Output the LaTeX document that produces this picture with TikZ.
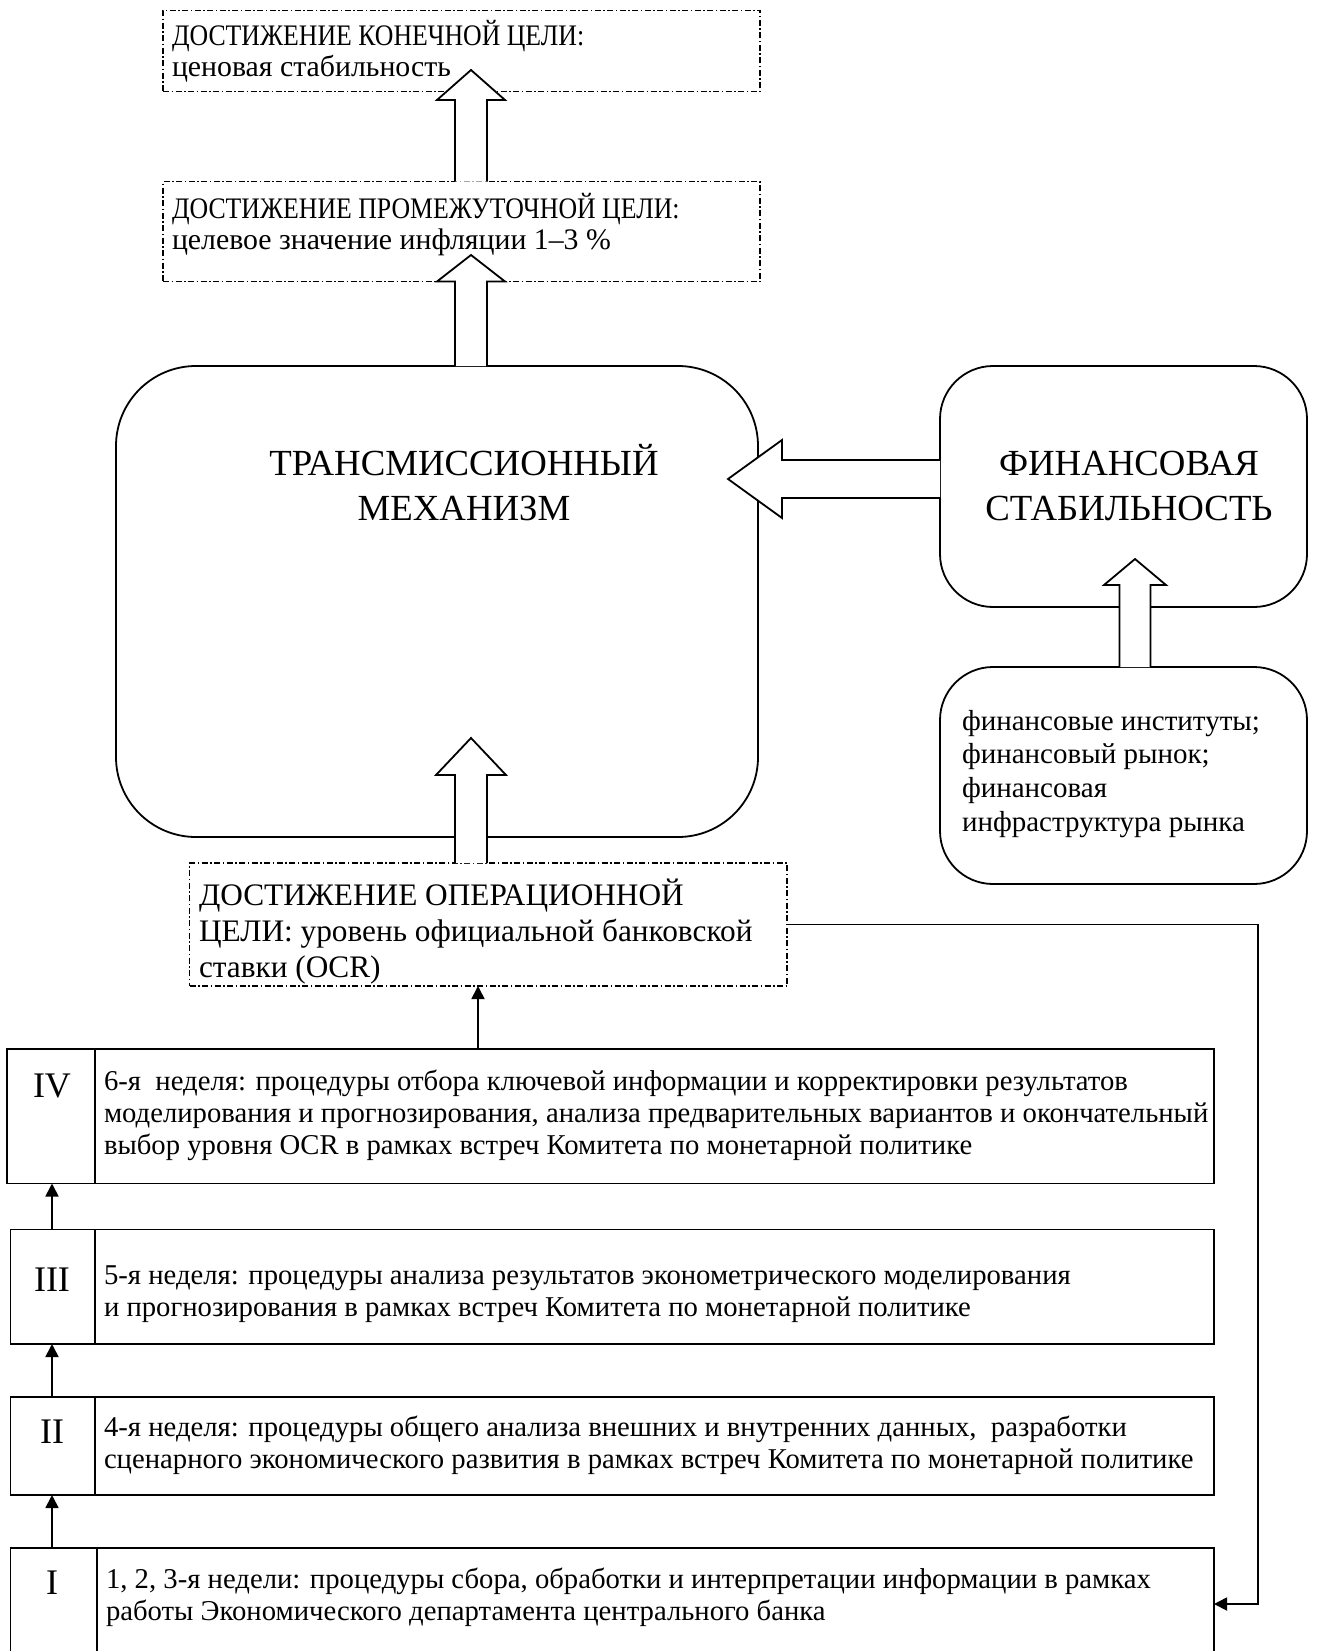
\documentclass[tikz,border=0pt]{standalone}
\usepackage{fontspec}
\usepackage{graphicx}
\setmainfont{Liberation Serif}
\usetikzlibrary{arrows.meta,calc}
\newcommand\Lft[1]{\vtop{\halign{##\hfil\cr#1\crcr}}}
\newcommand\Ctr[1]{\vtop{\halign{\hfil##\hfil\cr#1\crcr}}}
\newcommand\Cnd[1]{\scalebox{0.865}[1]{#1}}
\begin{document}
\begin{tikzpicture}[x=1pt,y=-1pt,
 box/.style={draw,line width=1.8pt,inner sep=0pt,outer sep=0pt,anchor=north west},
 ddbox/.style={box,line width=1.4pt,dash pattern=on 6pt off 2.5pt on 1.5pt off 2.5pt},
 rbox/.style={box,rounded corners=#1},
 blk/.style={draw,line width=1.8pt,fill=white,line join=miter},
 thinarr/.style={line width=1.8pt,-{Triangle[length=13pt,width=13pt]}},
 txt/.style={inner sep=0pt,outer sep=0pt,anchor=base west},
 ctxt/.style={inner sep=0pt,outer sep=0pt,anchor=base},
 fbody/.style={font=\fontsize{28.7}{32.3}\selectfont},
 ftop/.style={font=\fontsize{29.8}{31}\selectfont},
 fop/.style={font=\fontsize{31.3}{36}\selectfont},
 fbig/.style={font=\fontsize{36.8}{45}\selectfont},
 ffin/.style={font=\fontsize{29}{33.7}\selectfont},
 froman/.style={font=\fontsize{36}{40}\selectfont},
]
\useasboundingbox (0,0) rectangle (1318,1651);

% boxes
\node[ddbox,minimum width=597pt,minimum height=81pt] (b1) at (163,10.5) {};
\node[ddbox,minimum width=597pt,minimum height=100pt] (b2) at (163,181.5) {};
\node[rbox=80pt,minimum width=642pt,minimum height=471pt] (tm) at (116,366) {};
\node[rbox=53pt,minimum width=367pt,minimum height=241pt] (fs) at (940,366) {};
\node[rbox=53pt,minimum width=367pt,minimum height=217pt] (fi) at (940,667) {};
\node[ddbox,minimum width=597.5pt,minimum height=123pt] (op) at (189.5,863) {};
\node[box,minimum width=1207pt,minimum height=134.5pt] (bIV) at (7,1049) {};
\node[box,minimum width=1203.5pt,minimum height=114.5pt] (bIII) at (10.5,1229.5) {};
\node[box,minimum width=1203.5pt,minimum height=98pt] (bII) at (10.5,1397) {};
\node[box,minimum width=1203.5pt,minimum height=140pt] (bI) at (10.5,1548) {};

% dividers
\draw[line width=1.8pt] (95,1049) -- (95,1183.5);
\draw[line width=1.8pt] (95,1229.5) -- (95,1344);
\draw[line width=1.8pt] (95,1397) -- (95,1495);
\draw[line width=1.8pt] (97,1548) -- (97,1690);

% block arrows
\draw[blk] (455,181.5) -- (455,100) -- (437,100) -- (471,70) -- (505,100) -- (487,100) -- (487,181.5);
\draw[blk] (455,366) -- (455,281.5) -- (437,281.5) -- (471,255) -- (505,281.5) -- (487,281.5) -- (487,366);
\draw[blk] (455,863) -- (455,775) -- (436,775) -- (471,738) -- (506,775) -- (487,775) -- (487,863);
\draw[blk] (940,460) -- (782,460) -- (782,440) -- (728,479) -- (782,518) -- (782,498) -- (940,498);
\draw[blk] (1119.5,667) -- (1119.5,585) -- (1104,585) -- (1135,559) -- (1166,585) -- (1150.5,585) -- (1150.5,667);

% thin arrows
\coordinate (ax) at (52,0);
\coordinate (ax2) at (478,0);
\coordinate (fb) at (1258,1604);
\draw[thinarr] (bIV.north -| ax2) -- (op.south -| ax2);
\draw[thinarr] (bIII.north -| ax) -- (bIV.south -| ax);
\draw[thinarr] (bII.north -| ax) -- (bIII.south -| ax);
\draw[thinarr] (bI.north -| ax) -- (bII.south -| ax);
\draw[thinarr] (op.east) -| (fb) -- (fb -| bI.east);

% texts
\node[txt,ftop] (t1) at (172,46) {\Lft{\Cnd{ДОСТИЖЕНИЕ КОНЕЧНОЙ ЦЕЛИ:}\cr ценовая стабильность}};
\node[txt,ftop] (t2) at (172,218) {\Lft{\Cnd{ДОСТИЖЕНИЕ ПРОМЕЖУТОЧНОЙ ЦЕЛИ:}\cr целевое значение инфляции 1–3~\%}};
\node[ctxt,fbig] (tmt) at (464,475) {\Ctr{ТРАНСМИССИОННЫЙ\cr МЕХАНИЗМ}};
\node[ctxt,fbig] (fst) at (1129,475) {\Ctr{ФИНАНСОВАЯ\cr СТАБИЛЬНОСТЬ}};
\node[txt,ffin] (fit) at (962,730) {\Lft{финансовые институты;\cr финансовый рынок;\cr финансовая\cr инфраструктура рынка}};
\node[txt,fop] (opt) at (199,905) {\Lft{ДОСТИЖЕНИЕ ОПЕРАЦИОННОЙ\cr ЦЕЛИ: уровень официальной банковской\cr ставки (OCR)}};

\node[ctxt,froman] (nIV) at (52,1097) {IV};
\node[txt,fbody] (tIV) at (104,1090) {\Lft{6-я~ неделя: процедуры отбора ключевой информации и корректировки результатов\cr моделирования и прогнозирования, анализа предварительных вариантов и окончательный\cr выбор уровня OCR в рамках встреч Комитета по монетарной политике}};
\node[ctxt,froman] (nIII) at (52,1291) {III};
\node[txt,fbody] (tIII) at (104,1284) {\Lft{5-я неделя: процедуры анализа результатов эконометрического моделирования\cr и прогнозирования в рамках встреч Комитета по монетарной политике}};
\node[ctxt,froman] (nII) at (52,1443) {II};
\node[txt,fbody] (tII) at (104,1436) {\Lft{4-я неделя: процедуры общего анализа внешних и внутренних данных,~ разработки\cr сценарного экономического развития в рамках встреч Комитета по монетарной политике}};
\node[ctxt,froman] (nI) at (52,1594) {I};
\node[txt,fbody] (tI) at (106,1588) {\Lft{1, 2, 3-я недели: процедуры сбора, обработки и интерпретации информации в рамках\cr работы Экономического департамента центрального банка}};
\end{tikzpicture}
\end{document}
